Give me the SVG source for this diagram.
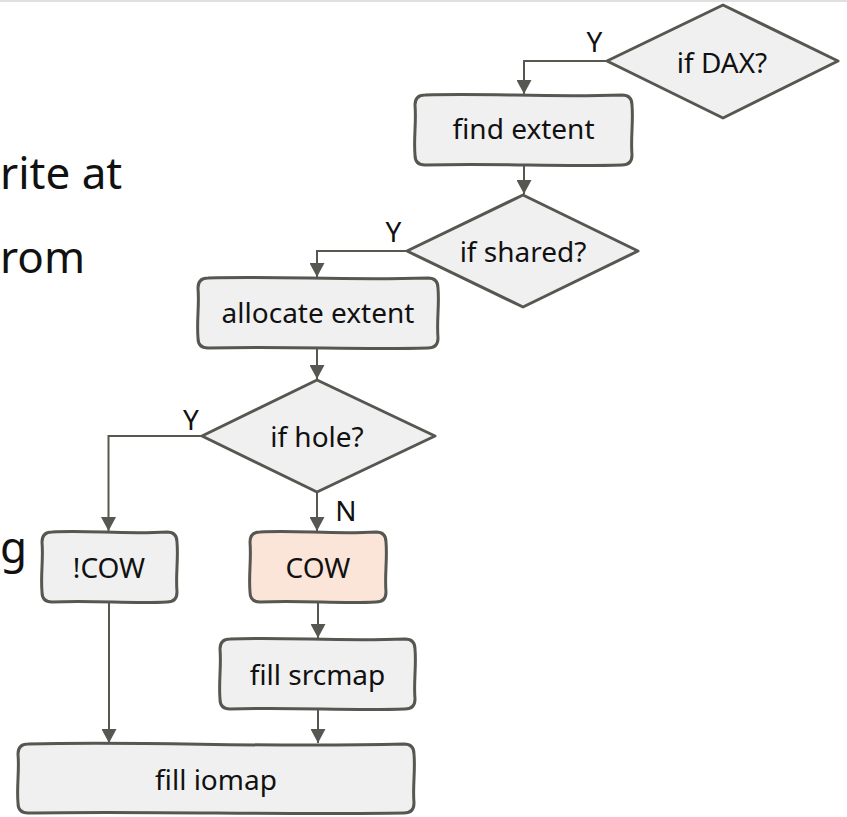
<svg xmlns="http://www.w3.org/2000/svg" width="847" height="817" viewBox="0 0 847 817">
  <defs>
    <marker id="arrow" viewBox="0 0 14 15" refX="14" refY="7.5" markerWidth="14" markerHeight="15" markerUnits="userSpaceOnUse" orient="auto">
      <path d="M0,0 L14,7.5 L0,15 Z" fill="#575751"/>
    </marker>
  </defs>
  <style>
    .node { fill: #f0f0f0; stroke: #575751; stroke-width: 3; stroke-linejoin: round; }
    .cow { fill: #fbe5d8; }
    .lbl { font-family: "Noto Sans", "Open Sans", sans-serif; font-size: 28px; fill: #111; text-anchor: middle; }
    .slide { font-family: "Noto Sans", "Open Sans", sans-serif; font-size: 44px; fill: #111; text-anchor: start; }
    .conn { fill: none; stroke: #575751; stroke-width: 2; marker-end: url(#arrow); }
  </style>

  <rect x="0" y="0" width="847" height="817" fill="#ffffff"/>
  <rect x="0" y="0" width="847" height="2" fill="#e0e0e0"/>

  <!-- slide body text along the left margin -->
  <g id="slide-text">
    <text class="slide" x="0" y="189">rite at</text>
    <text class="slide" x="0" y="273">rom</text>
    <text class="slide" x="0" y="563">g</text>
  </g>

  <!-- connectors -->
  <g id="connectors">
    <path class="conn" d="M607,61 H524 V94"/>
    <path class="conn" d="M524,165 V194"/>
    <path class="conn" d="M407,251 H317 V277"/>
    <path class="conn" d="M317,348 V379"/>
    <path class="conn" d="M202,436 H108.5 V531"/>
    <path class="conn" d="M317,492 V531"/>
    <path class="conn" d="M318,602 V638"/>
    <path class="conn" d="M318,709 V743"/>
    <path class="conn" d="M109,602 V743"/>
    <text class="lbl" x="594.5" y="52">Y</text>
    <text class="lbl" x="393.5" y="241.5">Y</text>
    <text class="lbl" x="191" y="430">Y</text>
    <text class="lbl" x="346" y="520.5">N</text>
  </g>

  <g id="if-dax">
    <polygon class="node" points="607,61 723,5 838,61 723,118"/>
    <text class="lbl" x="722" y="72.5">if DAX?</text>
  </g>

  <g id="find-extent">
    <path class="node" d="M425,95 C491,93 545,97.5 622,95 Q632,95 632,105 C633.5,123 630.5,137 632,155 Q632,165 622,165 C556,167 502,163 425,165 Q415,165 415,155 C413.5,137 416.5,123 415,105 Q415,95 425,95 Z"/>
    <text class="lbl" x="523.5" y="139">find extent</text>
  </g>

  <g id="if-shared">
    <polygon class="node" points="407,251 523,195 638,251 523,307"/>
    <text class="lbl" x="523" y="261.5">if shared?</text>
  </g>

  <g id="allocate-extent">
    <path class="node" d="M208,278 C282,276 342,280.5 428,278 Q438,278 438,288 C439.5,306 436.5,320 438,338 Q438,348 428,348 C354,350 294,346 208,348 Q198,348 198,338 C196.5,320 199.5,306 198,288 Q198,278 208,278 Z"/>
    <text class="lbl" x="318" y="323">allocate extent</text>
  </g>

  <g id="if-hole">
    <polygon class="node" points="202,436 317,380 435,436 317,492"/>
    <text class="lbl" x="317" y="446.5">if hole?</text>
  </g>

  <g id="not-cow">
    <path class="node" d="M52,532 C89,530 123,534.5 167,532 Q177,532 177,542 C178.5,560 175.5,574 177,592 Q177,602 167,602 C130,604 96,600 52,602 Q42,602 42,592 C40.5,574 43.5,560 42,542 Q42,532 52,532 Z"/>
    <text class="lbl" x="109" y="578">!COW</text>
  </g>

  <g id="cow">
    <path class="node cow" d="M260,532 C298,530 332,534.5 376,532 Q386,532 386,542 C387.5,560 384.5,574 386,592 Q386,602 376,602 C338,604 304,600 260,602 Q250,602 250,592 C248.5,574 251.5,560 250,542 Q250,532 260,532 Z"/>
    <text class="lbl" x="318" y="578">COW</text>
  </g>

  <g id="fill-srcmap">
    <path class="node" d="M230,639 C288,637 337,641.5 405,639 Q415,639 415,649 C416.5,667 413.5,681 415,699 Q415,709 405,709 C347,711 298,707 230,709 Q220,709 220,699 C218.5,681 221.5,667 220,649 Q220,639 230,639 Z"/>
    <text class="lbl" x="317.5" y="685">fill srcmap</text>
  </g>

  <g id="fill-iomap">
    <path class="node" d="M28,744 C157,741 260,748 404,744 Q414,744 414,754 C415.5,772 412.5,786 414,803 Q414,813 404,813 C283,815 150,811 28,813 Q18,813 18,803 C16.5,786 19.5,772 18,754 Q18,744 28,744 Z"/>
    <text class="lbl" x="216" y="790">fill iomap</text>
  </g>
</svg>
